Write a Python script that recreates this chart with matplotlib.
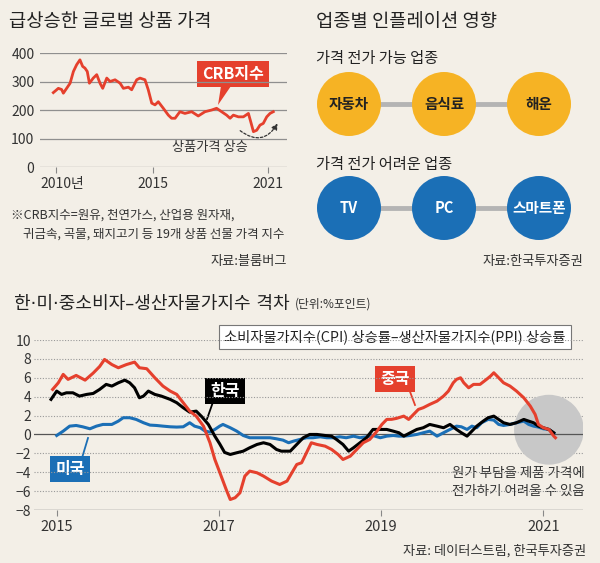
import matplotlib
matplotlib.use('Agg')
import matplotlib.pyplot as plt
from matplotlib.patches import Circle, Ellipse, Polygon
from matplotlib.transforms import ScaledTranslation

plt.rcParams['font.family'] = ['Noto Sans CJK KR', 'DejaVu Sans']

# CRB지수
crb_year = [2009.86, 2010.12, 2010.29, 2010.38, 2010.55, 2010.73, 2010.90, 2011.07, 2011.24,
            2011.38, 2011.50, 2011.62, 2011.73, 2011.93, 2012.11, 2012.28, 2012.42, 2012.63,
            2012.80, 2013.06, 2013.32, 2013.49, 2013.75, 2013.92, 2014.18, 2014.35, 2014.61,
            2014.78, 2014.96, 2015.13, 2015.30, 2015.56, 2015.82, 2015.99, 2016.17, 2016.42,
            2016.68, 2017.03, 2017.37, 2017.72, 2018.07, 2018.32, 2018.58, 2018.84, 2019.02,
            2019.19, 2019.45, 2019.71, 2019.97, 2020.09, 2020.23, 2020.40, 2020.57, 2020.74,
            2020.92, 2021.09, 2021.26]
crb_val = [261, 276, 272, 259, 276, 294, 335, 359, 376,
           353, 347, 335, 294, 312, 324, 294, 276, 312,
           300, 306, 294, 276, 280, 271, 306, 312, 306,
           271, 224, 218, 229, 206, 182, 171, 171, 194,
           188, 194, 179, 194, 200, 206, 194, 182, 171,
           182, 176, 176, 188, 159, 124, 129, 147, 153,
           176, 188, 194]

# 소비자물가지수 상승률 - 생산자물가지수 상승률 (%포인트)
cn_year = [2014.95, 2015.02, 2015.08, 2015.14, 2015.24, 2015.35, 2015.45, 2015.53, 2015.59,
           2015.68, 2015.76, 2015.86, 2015.96, 2016.02, 2016.11, 2016.21, 2016.31, 2016.40,
           2016.48, 2016.56, 2016.64, 2016.72, 2016.81, 2016.89, 2016.95, 2017.01, 2017.09,
           2017.14, 2017.20, 2017.26, 2017.32, 2017.38, 2017.47, 2017.55, 2017.65, 2017.75,
           2017.84, 2017.90, 2017.96, 2018.02, 2018.08, 2018.14, 2018.21, 2018.31, 2018.39,
           2018.47, 2018.53, 2018.62, 2018.70, 2018.78, 2018.86, 2018.95, 2019.01, 2019.07,
           2019.13, 2019.19, 2019.28, 2019.34, 2019.40, 2019.46, 2019.52, 2019.60, 2019.69,
           2019.77, 2019.83, 2019.89, 2019.93, 2019.98, 2020.02, 2020.08, 2020.14, 2020.22,
           2020.30, 2020.35, 2020.39, 2020.43, 2020.51, 2020.59, 2020.67, 2020.76, 2020.84,
           2020.90, 2020.94, 2021.00, 2021.07, 2021.13, 2021.15]
cn_val = [4.77, 5.47, 6.36, 5.83, 6.25, 5.75, 6.5, 7.2, 7.94,
          7.4, 7.06, 7.4, 7.66, 7.06, 6.96, 6.0, 5.12, 4.59,
          4.24, 3.36, 2.47, 1.94, 0.88, -0.88, -2.65, -4.0, -5.83,
          -6.89, -6.7, -6.18, -4.41, -3.88, -4.06, -4.41, -4.94, -5.3,
          -4.94, -4.06, -3.18, -3.0, -1.94, -0.88, -1.06, -1.24, -1.59,
          -2.12, -2.65, -2.3, -1.59, -0.88, -0.53, 0.35, 1.06, 1.59,
          1.6, 1.7, 1.94, 1.59, 2.12, 2.65, 2.83, 3.18, 3.53,
          4.06, 4.59, 5.47, 5.83, 6.0, 5.47, 4.94, 5.3, 5.3,
          5.83, 6.18, 6.53, 6.18, 5.47, 5.12, 4.59, 3.88, 3.0,
          2.12, 1.06, 0.71, 0.53, -0.18, -0.35]

kr_year = [2014.93, 2015.00, 2015.06, 2015.12, 2015.20, 2015.28, 2015.37, 2015.45, 2015.53,
           2015.61, 2015.68, 2015.76, 2015.84, 2015.90, 2015.96, 2016.02, 2016.07, 2016.13,
           2016.21, 2016.29, 2016.40, 2016.48, 2016.56, 2016.64, 2016.72, 2016.79, 2016.87,
           2016.95, 2017.01, 2017.07, 2017.14, 2017.22, 2017.30, 2017.38, 2017.47, 2017.55,
           2017.63, 2017.71, 2017.77, 2017.88, 2017.96, 2018.04, 2018.12, 2018.21, 2018.31,
           2018.39, 2018.45, 2018.53, 2018.60, 2018.66, 2018.74, 2018.82, 2018.90, 2018.99,
           2019.07, 2019.15, 2019.22, 2019.28, 2019.36, 2019.44, 2019.52, 2019.60, 2019.69,
           2019.77, 2019.85, 2019.93, 2019.99, 2020.06, 2020.12, 2020.18, 2020.26, 2020.32,
           2020.39, 2020.45, 2020.51, 2020.59, 2020.67, 2020.76, 2020.82, 2020.88, 2020.94,
           2021.00, 2021.07, 2021.13]
kr_val = [3.71, 4.59, 4.24, 4.41, 4.41, 4.06, 4.24, 4.34, 4.77,
          5.3, 5.12, 5.47, 5.75, 5.47, 4.94, 3.88, 4.06, 4.59,
          4.24, 4.06, 3.71, 3.36, 2.83, 2.36, 2.47, 1.87, 1.06,
          -0.18, -1.0, -1.9, -2.12, -1.94, -1.77, -1.41, -1.06, -0.88,
          -1.06, -1.59, -1.77, -1.77, -1.06, -0.35, 0.0, 0.0, -0.11,
          -0.18, -0.53, -1.06, -1.77, -1.41, -0.88, -0.35, 0.53, 0.53,
          0.53, 0.35, 0.18, -0.18, 0.18, 0.53, 0.71, 1.06, 0.88,
          0.71, 1.06, 0.53, 0.18, -0.18, 0.35, 0.88, 1.41, 1.77,
          1.94, 1.59, 1.24, 1.06, 1.24, 1.59, 1.41, 1.24, 0.88,
          0.71, 0.53, 0.18]

us_year = [2015.00, 2015.08, 2015.16, 2015.24, 2015.32, 2015.41, 2015.49, 2015.57, 2015.68,
           2015.76, 2015.82, 2015.90, 2015.98, 2016.07, 2016.15, 2016.23, 2016.31, 2016.40,
           2016.48, 2016.56, 2016.64, 2016.70, 2016.77, 2016.83, 2016.89, 2016.95, 2017.01,
           2017.05, 2017.14, 2017.22, 2017.30, 2017.38, 2017.47, 2017.55, 2017.63, 2017.71,
           2017.79, 2017.86, 2017.92, 2018.00, 2018.08, 2018.16, 2018.25, 2018.33, 2018.41,
           2018.49, 2018.57, 2018.66, 2018.74, 2018.82, 2018.90, 2018.99, 2019.07, 2019.15,
           2019.22, 2019.28, 2019.36, 2019.44, 2019.52, 2019.60, 2019.69, 2019.77, 2019.85,
           2019.93, 2019.99, 2020.06, 2020.12, 2020.18, 2020.24, 2020.32, 2020.39, 2020.45,
           2020.51, 2020.59, 2020.67, 2020.76, 2020.82, 2020.88, 2020.94, 2021.00, 2021.07,
           2021.13]
us_val = [-0.11, 0.35, 0.88, 0.95, 0.81, 0.6, 0.88, 1.06, 1.06,
          1.41, 1.77, 1.77, 1.59, 1.24, 0.99, 0.95, 0.88, 0.81,
          0.78, 0.81, 1.24, 0.88, 0.71, 0.35, 0.25, 0.53, 0.88,
          1.06, 0.71, 0.35, -0.11, -0.35, -0.35, -0.35, -0.35, -0.46,
          -0.6, -0.88, -0.71, -0.53, -0.35, -0.35, -0.25, -0.35, -0.35,
          -0.25, -0.35, -0.18, -0.35, -0.25, -0.11, -0.35, -0.18, -0.11,
          -0.18, -0.18, -0.11, 0.0, 0.18, 0.35, -0.18, 0.18, 0.53,
          0.88, 0.81, 0.53, 0.88, 0.71, 1.24, 1.59, 1.52, 1.06,
          0.95, 1.06, 1.24, 1.41, 1.06, 0.88, 0.78, 0.6, 0.53,
          0.11]

up_items = ['자동차', '음식료', '해운']
down_items = ['TV', 'PC', '스마트폰']

BG = '#f3efe7'
RED = '#e5402d'
BLUE = '#1b6fb6'
ORANGE = '#f6b324'
TXT = '#222222'

fig = plt.figure(figsize=(6, 5.63), dpi=100, facecolor=BG)

# 글자, 도형용 픽셀 좌표 축
bg = fig.add_axes([0, 0, 1, 1])
bg.set_xlim(0, 600)
bg.set_ylim(563, 0)
bg.axis('off')

# ---------- 급상승한 글로벌 상품 가격 ----------
bg.text(9, 22, '급상승한 글로벌 상품 가격', fontsize=13.5, weight='medium', color=TXT, va='center')

ax1 = fig.add_axes([40/600, 1-167/563, 247/600, 114/563])
ax1.set_facecolor('none')
ax1.set_xlim(2009.17, 2021.97)
ax1.set_ylim(0, 400)
for s in ax1.spines.values():
    s.set_visible(False)
ax1.set_yticks([0, 100, 200, 300, 400])
ax1.grid(axis='y', color='#8f8f8f', lw=0.9)
ax1.set_axisbelow(True)
ax1.tick_params(axis='y', length=0, pad=4, labelsize=10, labelcolor='#333')
ax1.set_xticks([2010, 2015, 2021])
ax1.set_xticklabels(['2010년', '2015', '2021'])
ax1.tick_params(axis='x', length=4, color='#888', pad=3, labelsize=10, labelcolor='#333')
lab = ax1.xaxis.get_major_ticks()[0].label1
lab.set_transform(lab.get_transform() + ScaledTranslation(0.06, 0, fig.dpi_scale_trans))
ax1.plot(crb_year, crb_val, color=RED, lw=2.0, solid_joinstyle='round')

bg.text(233, 74, 'CRB지수', fontsize=11.5, weight='bold', color='white', ha='center', va='center',
        bbox=dict(boxstyle='square,pad=0.3', fc=RED, ec='none'))
bg.add_patch(Polygon([[221, 86], [231, 86], [218, 105]], closed=True, fc=RED, ec='none'))
bg.text(210, 148, '상품가격 상승', fontsize=9.5, color='#333', ha='center', va='center')
bg.annotate('', xy=(279, 121), xytext=(238, 129),
            arrowprops=dict(arrowstyle='-|>', ls=(0, (2, 1.5)), lw=0.9, color='#333',
                            connectionstyle='arc3,rad=0.6', mutation_scale=9))

bg.text(11, 215, '※CRB지수=원유, 천연가스, 산업용 원자재,', fontsize=9, color='#333', va='center')
bg.text(23, 234, '귀금속, 곡물, 돼지고기 등 19개 상품 선물 가격 지수', fontsize=9, color='#333', va='center')
bg.text(287, 262, '자료:블룸버그', fontsize=9.5, color='#333', ha='right', va='center')

# ---------- 업종별 인플레이션 영향 ----------
bg.text(316, 22, '업종별 인플레이션 영향', fontsize=13.5, weight='medium', color=TXT, va='center')
bg.text(316, 59, '가격 전가 가능 업종', fontsize=11, color=TXT, va='center')
bg.text(316, 165, '가격 전가 어려운 업종', fontsize=11, color=TXT, va='center')

cx = [349, 444, 539]
for row_y, items, fc, tc in [(104, up_items, ORANGE, TXT), (208, down_items, BLUE, 'white')]:
    bg.plot([cx[0], cx[-1]], [row_y, row_y], color='#b4b4b4', lw=3.5, zorder=1)
    for x, name in zip(cx, items):
        bg.add_patch(Circle((x, row_y), 32, fc=fc, ec='none', zorder=2))
        bg.text(x, row_y, name, fontsize=10.5, weight='bold', color=tc, ha='center', va='center', zorder=3)
bg.text(583, 262, '자료:한국투자증권', fontsize=9.5, color='#333', ha='right', va='center')

# ---------- 한·미·중 소비자-생산자물가지수 격차 ----------
t = bg.text(14, 304, '한·미·중소비자–생산자물가지수 격차', fontsize=13, weight='medium', color=TXT,
            va='center', family=['DejaVu Sans', 'Noto Sans CJK KR'])
bg.annotate('(단위:%포인트)', xy=(1, 0.5), xycoords=t, xytext=(4, 0), textcoords='offset points',
            fontsize=8.5, color='#333', va='center')

ax2 = fig.add_axes([34/600, 1-510/563, 549/600, 170/563])
ax2.set_facecolor('none')
ax2.set_xlim(2014.72, 2021.49)
ax2.set_ylim(-8, 10)
for s in ax2.spines.values():
    s.set_visible(False)
yt = list(range(-8, 11, 2))
ax2.set_yticks(yt)
for v in yt:
    if v == 0:
        ax2.axhline(v, color='#555', lw=0.9, zorder=2)
    elif v == -8:
        ax2.axhline(v, color='#777', lw=1.0, zorder=2)
    else:
        ax2.axhline(v, color='#999', lw=0.8, ls=(0, (1, 1.5)), zorder=1)
ax2.tick_params(axis='y', length=0, pad=2, labelsize=10, labelcolor='#333')
ax2.set_xticks([2015, 2017, 2019, 2021])
ax2.tick_params(axis='x', length=4, color='#888', pad=3, labelsize=10.5, labelcolor='#333')

ax2.add_patch(Ellipse((2021.07, 0.5), 0.86, 7.4, fc='#c8c8c8', ec='none', zorder=1.5))
ax2.plot(us_year, us_val, color=BLUE, lw=2.2, zorder=3)
ax2.plot(kr_year, kr_val, color='black', lw=2.2, zorder=4)
ax2.plot(cn_year, cn_val, color=RED, lw=2.2, zorder=5)

bg.text(395, 337, '소비자물가지수(CPI) 상승률–생산자물가지수(PPI) 상승률', fontsize=10.3, color=TXT,
        ha='center', va='center', bbox=dict(boxstyle='square,pad=0.35', fc='white', ec='#777', lw=0.8))

for x, y, name, fc in [(225, 391, '한국', 'black'), (70, 469, '미국', BLUE), (395, 379, '중국', RED)]:
    bg.text(x, y, name, fontsize=11.5, weight='bold', color='white', ha='center', va='center', zorder=6,
            bbox=dict(boxstyle='square,pad=0.3', fc=fc, ec='none'))
bg.plot([213, 207], [402, 419], color='black', lw=1.3)
bg.plot([82, 88], [458, 438], color=BLUE, lw=1.3)
bg.plot([409, 415], [389, 405], color=RED, lw=1.3)

bg.text(452, 482, '원가 부담을 제품 가격에\n전가하기 어려울 수 있음', fontsize=9.7, color='#333',
        ha='left', va='center', linespacing=1.35)
bg.text(586, 551, '자료: 데이터스트림, 한국투자증권', fontsize=9.5, color='#333', ha='right', va='center')

fig.savefig('out.png', dpi=100, facecolor=BG)
